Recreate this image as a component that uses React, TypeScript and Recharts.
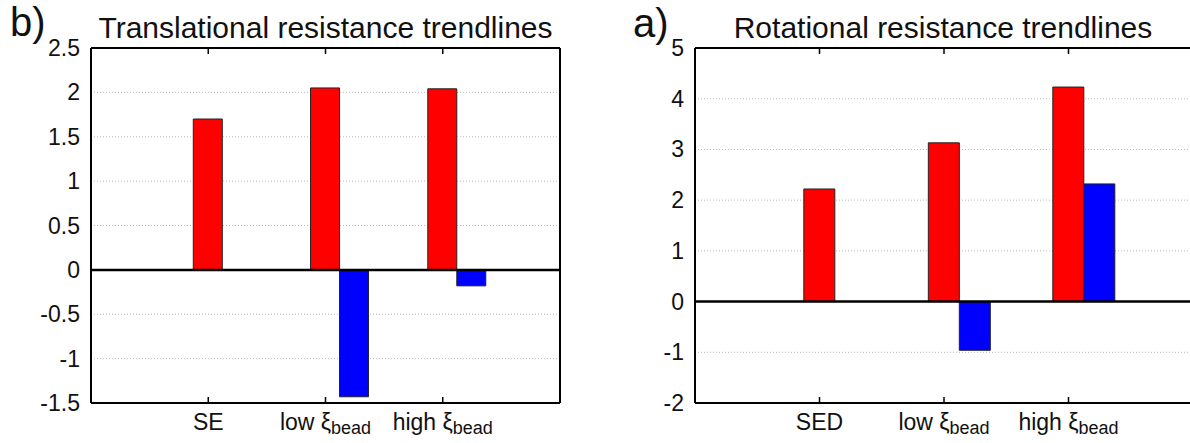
import React from "react";
import { Bar, BarChart, CartesianGrid, ReferenceLine, XAxis, YAxis } from "recharts";

// values
const TRANS_CATS = ["SE", "low", "high"];
const TRANS_LABELS = [["SE", ""], ["low ξ", "bead"], ["high ξ", "bead"]];
const TRANS_RED = [1.7, 2.05, 2.04];
const TRANS_BLUE = [null, -1.43, -0.18];
const TRANS_TICKS = [-1.5, -1, -0.5, 0, 0.5, 1, 1.5, 2, 2.5];

const ROT_CATS = ["SED", "low", "high"];
const ROT_LABELS = [["SED", ""], ["low ξ", "bead"], ["high ξ", "bead"]];
const ROT_RED = [2.22, 3.13, 4.23];
const ROT_BLUE = [null, -0.96, 2.32];
const ROT_TICKS = [-2, -1, 0, 1, 2, 3, 4, 5];

const FONT = "'Liberation Sans', Arial, Helvetica, sans-serif";
const Y_AXIS_W = 60;
const X_AXIS_H = 40;
const CHART_H = 443;
const PLOT_TOP = 48;
const TICK_LEN = 6;

interface PanelProps {
  left: number;
  width: number;
  marginLeft: number;
  marginRight: number;
  cats: string[];
  labels: string[][];
  red: (number | null)[];
  blue: (number | null)[];
  ticks: number[];
}

function Panel({ left, width, marginLeft, marginRight, cats, labels, red, blue, ticks }: PanelProps) {
  const data = cats.map((c, i) => ({ cat: c, red: red[i], blue: blue[i] }));
  const plotLeft = marginLeft + Y_AXIS_W;
  const plotRight = width - marginRight;
  const plotBottom = CHART_H - X_AXIS_H;
  const plotW = plotRight - plotLeft;
  const plotH = plotBottom - PLOT_TOP;
  // gnuplot xrange [-1:3]: half a band of empty space on each side
  const pad = plotW / 8;
  const domain = [ticks[0], ticks[ticks.length - 1]];
  const ty = (TICK_LEN * (domain[1] - domain[0])) / plotH;

  const yTick = (props: any) => (
    <text x={Number(props.x)} y={Number(props.y)} dy={8} textAnchor="end" fontSize={23} fill="#111" fontFamily={FONT}>
      {props.payload.value}
    </text>
  );

  const xTick = (props: any) => {
    const [main, sub] = labels[props.index] || ["", ""];
    return (
      <text x={Number(props.x)} y={Number(props.y) + 27} textAnchor="middle" fontSize={23} fill="#111" fontFamily={FONT}>
        {main}
        {sub && (
          <tspan dy={4} fontSize={18}>
            {sub}
          </tspan>
        )}
      </text>
    );
  };

  return (
    <div style={{ position: "absolute", left, top: 0 }}>
      <BarChart
        width={width}
        height={CHART_H}
        data={data}
        margin={{ top: PLOT_TOP, right: marginRight, bottom: 0, left: marginLeft }}
        barGap={0}
        barCategoryGap="12.5%"
      >
        <CartesianGrid horizontal vertical={false} stroke="#bbb" strokeDasharray="1 2" />
        {/* plot border drawn as a grid pinned to the plot edges */}
        <CartesianGrid
          horizontalPoints={[PLOT_TOP, plotBottom]}
          verticalPoints={[plotLeft, plotRight]}
          stroke="#000"
          strokeWidth={2}
        />
        <XAxis
          dataKey="cat"
          height={X_AXIS_H}
          padding={{ left: pad, right: pad }}
          axisLine={false}
          tickLine={false}
          tickSize={0}
          tickMargin={0}
          tick={xTick}
          interval={0}
        />
        <YAxis
          type="number"
          domain={domain}
          ticks={ticks}
          width={Y_AXIS_W}
          axisLine={false}
          tickLine={false}
          tickSize={0}
          tickMargin={11}
          tick={yTick}
          interval={0}
          allowDataOverflow
        />
        <Bar dataKey="gap" fill="none" isAnimationActive={false} />
        <Bar dataKey="red" fill="#ff0000" stroke="#222" strokeWidth={1} isAnimationActive={false} />
        <Bar dataKey="blue" fill="#0000ff" stroke="#222" strokeWidth={1} isAnimationActive={false} />
        <ReferenceLine y={0} stroke="#000" strokeWidth={2.5} />
        {cats.map((c) => (
          <ReferenceLine
            key={`b${c}`}
            segment={[{ x: c, y: domain[0] }, { x: c, y: domain[0] + ty }]}
            stroke="#000"
            strokeWidth={1.5}
            ifOverflow="visible"
          />
        ))}
        {cats.map((c) => (
          <ReferenceLine
            key={`t${c}`}
            segment={[{ x: c, y: domain[1] - ty }, { x: c, y: domain[1] }]}
            stroke="#000"
            strokeWidth={1.5}
            ifOverflow="visible"
          />
        ))}
      </BarChart>
    </div>
  );
}

export default function App() {
  return (
    <div
      style={{
        position: "absolute",
        left: 0,
        top: 0,
        width: 1190,
        height: 443,
        overflow: "hidden",
        background: "#fff",
        fontFamily: FONT,
      }}
    >
      <Panel
        left={0}
        width={600}
        marginLeft={31}
        marginRight={40}
        cats={TRANS_CATS}
        labels={TRANS_LABELS}
        red={TRANS_RED}
        blue={TRANS_BLUE}
        ticks={TRANS_TICKS}
      />
      <Panel
        left={600}
        width={600}
        marginLeft={35}
        marginRight={7}
        cats={ROT_CATS}
        labels={ROT_LABELS}
        red={ROT_RED}
        blue={ROT_BLUE}
        ticks={ROT_TICKS}
      />
      <svg
        width={1190}
        height={443}
        style={{ position: "absolute", left: 0, top: 0, pointerEvents: "none" }}
        fontFamily={FONT}
      >
        <text x={10} y={36} fontSize={40} fill="#111">b)</text>
        <text x={325.5} y={38} fontSize={30} fill="#111" textAnchor="middle">
          Translational resistance trendlines
        </text>
        <text x={633} y={37} fontSize={40} fill="#111">a)</text>
        <text x={943} y={38} fontSize={30} fill="#111" textAnchor="middle">
          Rotational resistance trendlines
        </text>
      </svg>
    </div>
  );
}
